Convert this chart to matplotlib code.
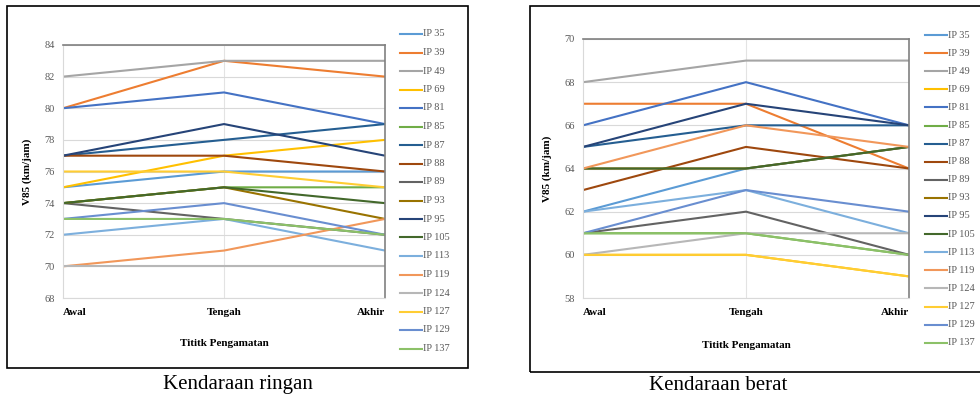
import matplotlib.pyplot as plt
from matplotlib.patches import Rectangle
from matplotlib.lines import Line2D

plt.rcParams['font.family'] = ['Liberation Serif', 'DejaVu Serif']

points = ['Awal', 'Tengah', 'Akhir']
series = ['IP 35', 'IP 39', 'IP 49', 'IP 69', 'IP 81', 'IP 85', 'IP 87', 'IP 88', 'IP 89',
          'IP 93', 'IP 95', 'IP 105', 'IP 113', 'IP 119', 'IP 124', 'IP 127', 'IP 129', 'IP 137']

# kendaraan ringan
ringan = [
    [75, 76, 76],  # IP 35
    [80, 83, 82],  # IP 39
    [82, 83, 83],  # IP 49
    [75, 77, 78],  # IP 69
    [80, 81, 79],  # IP 81
    [74, 75, 75],  # IP 85
    [77, 78, 79],  # IP 87
    [77, 77, 76],  # IP 88
    [74, 73, 72],  # IP 89
    [74, 75, 73],  # IP 93
    [77, 79, 77],  # IP 95
    [74, 75, 74],  # IP 105
    [72, 73, 71],  # IP 113
    [70, 71, 73],  # IP 119
    [70, 70, 70],  # IP 124
    [76, 76, 75],  # IP 127
    [73, 74, 72],  # IP 129
    [73, 73, 72],  # IP 137
]

# kendaraan berat
berat = [
    [62, 64, 65],  # IP 35
    [67, 67, 64],  # IP 39
    [68, 69, 69],  # IP 49
    [60, 60, 59],  # IP 69
    [66, 68, 66],  # IP 81
    [61, 61, 60],  # IP 85
    [65, 66, 66],  # IP 87
    [63, 65, 64],  # IP 88
    [61, 62, 60],  # IP 89
    [64, 64, 65],  # IP 93
    [65, 67, 66],  # IP 95
    [64, 64, 65],  # IP 105
    [62, 63, 61],  # IP 113
    [64, 66, 65],  # IP 119
    [60, 61, 61],  # IP 124
    [60, 60, 59],  # IP 127
    [61, 63, 62],  # IP 129
    [61, 61, 60],  # IP 137
]

colors = ['#5B9BD5', '#ED7D31', '#A5A5A5', '#FFC000', '#4472C4', '#70AD47',
          '#255E91', '#9E480E', '#636363', '#997300', '#264478', '#43682B',
          '#7CAFDD', '#F1975A', '#B7B7B7', '#FFCD33', '#698ED0', '#8CC168']

W, H = 980, 398
fig = plt.figure(figsize=(W / 100, H / 100), dpi=100)


def px(x0, y0, x1, y1):
    return [x0 / W, 1 - y1 / H, (x1 - x0) / W, (y1 - y0) / H]


def draw(rect, data, ylim, ylabel_x, xlabel_y, leg_x, leg_y0, leg_dy, box, caption_x):
    # outer frame
    bx0, by0, bx1, by1 = box
    fig.patches.append(Rectangle((bx0 / W, 1 - by1 / H), (bx1 - bx0) / W, (by1 - by0) / H,
                                 transform=fig.transFigure, fill=False, ec='black', lw=1.2))
    ax = fig.add_axes(px(*rect))
    x = range(len(points))
    for vals, c in zip(data, colors):
        ax.plot(x, vals, color=c, lw=1.5, solid_capstyle='butt')
    ax.set_xlim(0, 2)
    ax.set_ylim(*ylim)
    ax.set_yticks(range(ylim[0], ylim[1] + 1, 2))
    ax.grid(axis='y', color='#D9D9D9', lw=0.8)
    ax.axvline(1, color='#E3E3E3', lw=0.8, zorder=0)
    ax.set_axisbelow(True)
    for s in ['left', 'bottom']:
        ax.spines[s].set_color('#D9D9D9')
    for s in ['top', 'right']:
        ax.spines[s].set_color('#808080')
        ax.spines[s].set_linewidth(1.2)
    ax.tick_params(length=0, labelsize=7.5, labelcolor='#595959', pad=6)
    ax.set_xticks(list(x))
    ax.set_xticklabels(points, fontweight='bold', fontsize=8, color='black')
    ax.tick_params(axis='x', pad=7)
    lbls = ax.get_xticklabels()
    lbls[0].set_ha('left')
    lbls[-1].set_ha('right')
    fig.text(ylabel_x / W, 1 - (rect[1] + rect[3]) / 2 / H, 'V85 (km/jam)', rotation=90,
             ha='center', va='center', fontsize=8, fontweight='bold')
    fig.text(((rect[0] + rect[2]) / 2) / W, 1 - xlabel_y / H, 'Tititk Pengamatan',
             ha='center', va='center', fontsize=8, fontweight='bold')
    # legend
    for i, (name, c) in enumerate(zip(series, colors)):
        yy = 1 - (leg_y0 + i * leg_dy) / H
        fig.lines.append(Line2D([leg_x / W, (leg_x + 22) / W], [yy, yy], color=c, lw=1.5,
                                transform=fig.transFigure))
        fig.text((leg_x + 23) / W, yy, name, ha='left', va='center', fontsize=7.5,
                 color='#595959')
    fig.text(caption_x / W, 1 - 385 / H, caption_text[caption_x], ha='center', va='center',
             fontsize=15)
    return ax


caption_text = {238: 'Kendaraan ringan', 718: 'Kendaraan berat'}

draw((63, 45, 385, 298), ringan, (68, 84), 27, 343, 400, 34, 18.5, (7, 6, 468, 368), 238)
draw((583, 39, 909, 298), berat, (58, 70), 547, 346, 925, 35, 18.1, (530, 6, 1000, 372), 718)

fig.savefig('out.png', dpi=100)
